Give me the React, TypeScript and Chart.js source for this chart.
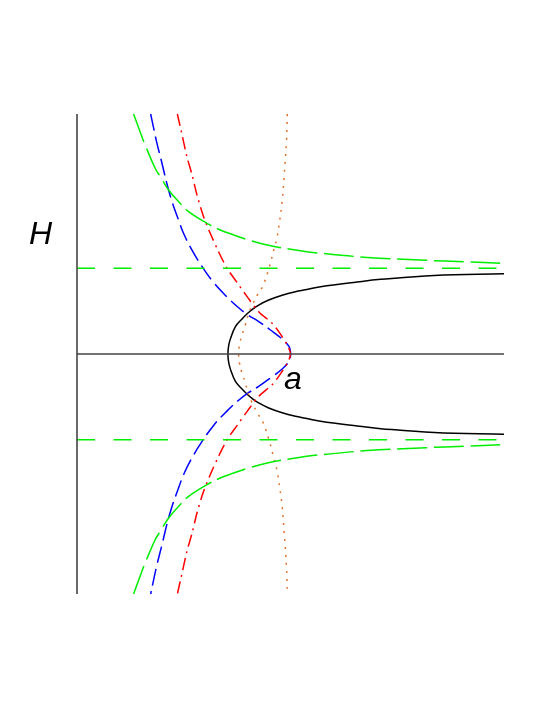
import React, { useEffect, useRef } from "react";
import { Chart, registerables } from "chart.js";

Chart.register(...registerables);

type P = [number, number];

// x = a (0..2), y = H (-2..2)
const greenCurveUpper: P[] = [
  [0.265, 2.0], [0.304, 1.811], [0.319, 1.742], [0.366, 1.548], [0.39, 1.478],
  [0.429, 1.367], [0.476, 1.269], [0.523, 1.186], [0.609, 1.089], [0.671, 1.033],
  [0.734, 0.992], [0.804, 0.95], [0.891, 0.908], [1.047, 0.86], [1.094, 0.848],
  [1.36, 0.805], [1.634, 0.781], [1.812, 0.768], [2.0, 0.756],
];
const greenCurveLower: P[] = [
  [0.265, -2.0], [0.304, -1.811], [0.319, -1.742], [0.366, -1.548], [0.39, -1.478],
  [0.429, -1.367], [0.476, -1.269], [0.523, -1.186], [0.609, -1.089], [0.671, -1.033],
  [0.734, -0.992], [0.804, -0.95], [0.891, -0.908], [1.047, -0.86], [1.094, -0.848],
  [1.36, -0.805], [1.634, -0.781], [1.812, -0.768], [2.0, -0.756],
];
const greenLevelUpper: P[] = [[0, 0.714], [2, 0.714]];
const greenLevelLower: P[] = [[0, -0.714], [2, -0.714]];

const blueUpper: P[] = [
  [0.345, 2.0], [0.358, 1.89], [0.374, 1.76], [0.398, 1.59], [0.421, 1.42],
  [0.445, 1.27], [0.476, 1.115], [0.499, 1.006], [0.538, 0.867], [0.585, 0.73],
  [0.64, 0.595], [0.7, 0.48], [0.757, 0.385], [0.797, 0.33], [0.851, 0.27],
  [0.906, 0.2], [0.961, 0.125], [0.992, 0.065], [1.0, 0.02], [1.0, 0],
];
const blueLower: P[] = [
  [1.0, -0.02], [0.992, -0.065], [0.961, -0.125], [0.906, -0.2], [0.851, -0.27],
  [0.797, -0.33], [0.757, -0.385], [0.7, -0.48], [0.64, -0.595], [0.585, -0.73],
  [0.538, -0.867], [0.499, -1.006], [0.476, -1.115], [0.445, -1.27], [0.421, -1.42],
  [0.398, -1.59], [0.374, -1.76], [0.358, -1.89], [0.345, -2.0],
];

const redUpper: P[] = [
  [0.47, 2.0], [0.487, 1.867], [0.515, 1.644], [0.539, 1.492], [0.562, 1.325],
  [0.593, 1.144], [0.624, 1.006], [0.663, 0.853], [0.703, 0.714], [0.75, 0.595],
  [0.797, 0.478], [0.851, 0.353], [0.914, 0.256], [0.945, 0.186], [0.985, 0.075],
  [1.0, 0],
];
const redLower: P[] = [
  [0.985, -0.075], [0.945, -0.186], [0.914, -0.256], [0.851, -0.353], [0.797, -0.478],
  [0.75, -0.595], [0.703, -0.714], [0.663, -0.853], [0.624, -1.006], [0.593, -1.144],
  [0.562, -1.325], [0.539, -1.492], [0.515, -1.644], [0.487, -1.867], [0.47, -2.0],
];

const orangeUpper: P[] = [
  [0.985, 2.0], [0.981, 1.77], [0.97, 1.48], [0.961, 1.27], [0.95, 1.12],
  [0.938, 0.98], [0.922, 0.87], [0.9, 0.72], [0.87, 0.565], [0.844, 0.49],
  [0.82, 0.405], [0.804, 0.34], [0.789, 0.245], [0.773, 0.16], [0.761, 0.075],
  [0.757, 0],
];
const orangeLower: P[] = [
  [0.761, -0.075], [0.773, -0.16], [0.789, -0.245], [0.804, -0.34], [0.82, -0.405],
  [0.844, -0.49], [0.87, -0.565], [0.9, -0.72], [0.922, -0.87], [0.938, -0.98],
  [0.95, -1.12], [0.961, -1.27], [0.97, -1.48], [0.981, -1.77], [0.985, -2.0],
];

const blackUpper: P[] = [
  [2.0, 0.669], [1.673, 0.655], [1.423, 0.622], [1.313, 0.6], [1.141, 0.56],
  [1.07, 0.535], [1.023, 0.519], [0.961, 0.49], [0.898, 0.45], [0.851, 0.408],
  [0.82, 0.37], [0.797, 0.335], [0.773, 0.292], [0.742, 0.228], [0.718, 0.124],
  [0.7095, 0.06], [0.707, 0],
];
const blackLower: P[] = [
  [0.7095, -0.06], [0.718, -0.124], [0.742, -0.228], [0.773, -0.292], [0.797, -0.335],
  [0.82, -0.37], [0.851, -0.408], [0.898, -0.45], [0.961, -0.49], [1.023, -0.519],
  [1.07, -0.535], [1.141, -0.56], [1.313, -0.6], [1.423, -0.622], [1.673, -0.655],
  [2.0, -0.669],
];

const verticalAxis: P[] = [[0, -2], [0, 2]];
const horizontalAxis: P[] = [[0, 0], [2, 0]];

const axisLabelH = "H";
const axisLabelA = "a";

const toXY = (pts: P[]) => pts.map(([x, y]) => ({ x, y }));

function line(pts: P[], color: string, width: number, dash: number[], tension: number) {
  return {
    data: toXY(pts),
    borderColor: color,
    backgroundColor: color,
    borderWidth: width,
    borderDash: dash,
    showLine: true,
    pointRadius: 0,
    pointHoverRadius: 0,
    tension,
    fill: false,
    clip: false as any,
  };
}

const labelsPlugin = {
  id: "labels",
  afterDraw(chart: any) {
    const ctx = chart.ctx;
    ctx.save();
    ctx.fillStyle = "#000";
    ctx.font = 'italic 32px "Liberation Sans", Arial, sans-serif';
    ctx.textAlign = "left";
    ctx.textBaseline = "alphabetic";
    ctx.fillText(axisLabelH, 29, 244);
    ctx.fillText(axisLabelA, 284, 389);
    ctx.restore();
  },
};

export default function App() {
  const ref = useRef<HTMLCanvasElement | null>(null);
  useEffect(() => {
    if (!ref.current) return;
    const orange = "rgb(225,115,45)";
    const chart = new Chart(ref.current, {
      type: "scatter",
      data: {
        datasets: [
          line(verticalAxis, "#444", 1.6, [], 0),
          line(horizontalAxis, "#444", 1.6, [], 0),
          line(greenLevelUpper, "#00ee00", 1.5, [18, 18.5], 0),
          line(greenLevelLower, "#00ee00", 1.5, [18, 18.5], 0),
          line(greenCurveUpper, "#00ee00", 1.5, [30, 6.7], 0.4),
          line(greenCurveLower, "#00ee00", 1.5, [30, 6.7], 0.4),
          line([...orangeUpper, ...orangeLower], orange, 1.5, [2, 6], 0.4),
          line([...redUpper, ...redLower], "#ff0000", 1.5, [12, 5, 2, 5], 0.3),
          line([...blueUpper, ...blueLower], "#0000ff", 1.5, [17, 6], 0.4),
          line([...blackUpper, ...blackLower], "#000000", 1.5, [], 0.4),
        ] as any,
      },
      options: {
        animation: false,
        responsive: false,
        events: [],
        layout: { padding: { left: 77, right: 41, top: 114, bottom: 111 } },
        plugins: { legend: { display: false }, tooltip: { enabled: false } },
        scales: {
          x: { type: "linear", min: 0, max: 2, display: false },
          y: { type: "linear", min: -2, max: 2, display: false },
        },
      },
      plugins: [labelsPlugin],
    });
    return () => chart.destroy();
  }, []);
  return (
    <div style={{ position: "absolute", left: 0, top: 0, width: 545, height: 705, background: "#fff" }}>
      <canvas ref={ref} width={545} height={705} />
    </div>
  );
}
